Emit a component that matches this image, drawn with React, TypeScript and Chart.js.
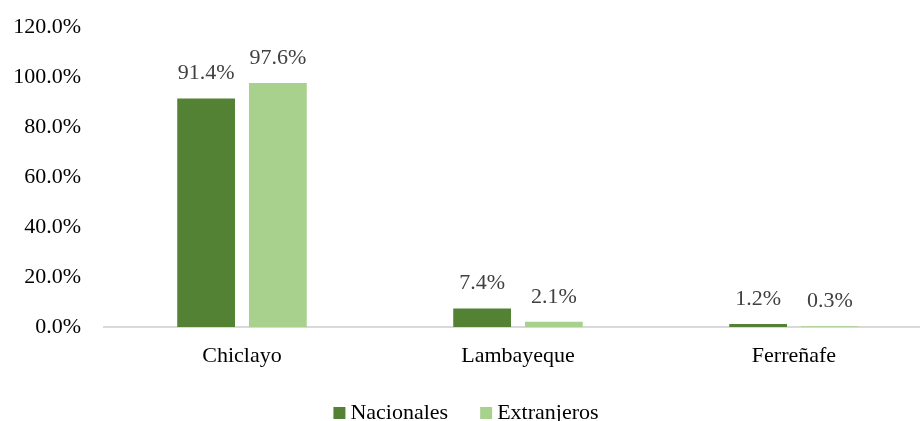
import React, { useEffect, useRef } from "react";
import { Chart, registerables } from "chart.js";

Chart.register(...registerables);

const categories = ["Chiclayo", "Lambayeque", "Ferreñafe"];
const nacionales = [91.4, 7.4, 1.2];
const extranjeros = [97.6, 2.1, 0.3];
const seriesNames = ["Nacionales", "Extranjeros"];
const seriesColors = ["#548235", "#A9D18E"];
const yTicks = [0, 20, 40, 60, 80, 100, 120];

const FONT = '"Liberation Serif", "Times New Roman", serif';

const dataLabelPlugin = {
  id: "dataLabels",
  afterDatasetsDraw(chart: any) {
    const ctx = chart.ctx;
    ctx.save();
    ctx.font = `22px ${FONT}`;
    ctx.fillStyle = "#404040";
    ctx.textAlign = "center";
    ctx.textBaseline = "middle";
    chart.data.datasets.forEach((ds: any, i: number) => {
      const meta = chart.getDatasetMeta(i);
      meta.data.forEach((bar: any, j: number) => {
        const v = ds.data[j];
        ctx.fillText(v.toFixed(1) + "%", bar.x, bar.y - 25);
      });
    });
    ctx.restore();
  },
};

const legendPlugin = {
  id: "customLegend",
  afterDraw(chart: any) {
    const ctx = chart.ctx;
    ctx.save();
    ctx.font = `22px ${FONT}`;
    ctx.textBaseline = "alphabetic";
    ctx.textAlign = "left";
    const box = 12;
    const gapText = 5;
    const gapItem = 32;
    const widths = seriesNames.map((n) => ctx.measureText(n).width);
    const total =
      widths.reduce((a, b) => a + b, 0) + seriesNames.length * (box + gapText) + gapItem * (seriesNames.length - 1);
    let x = chart.width / 2 - total / 2;
    const baseline = chart.height - 2;
    seriesNames.forEach((n, i) => {
      ctx.fillStyle = seriesColors[i];
      ctx.fillRect(x, baseline - box, box, box);
      x += box + gapText;
      ctx.fillStyle = "#000000";
      ctx.fillText(n, x, baseline);
      x += widths[i] + gapItem;
    });
    ctx.restore();
  },
};

export default function App() {
  const ref = useRef<HTMLCanvasElement>(null);
  useEffect(() => {
    if (!ref.current) return;
    const chart = new Chart(ref.current, {
      type: "bar",
      data: {
        labels: categories,
        datasets: [
          {
            label: seriesNames[0],
            data: nacionales,
            backgroundColor: seriesColors[0],
            categoryPercentage: 0.52,
            barPercentage: 0.805,
          },
          {
            label: seriesNames[1],
            data: extranjeros,
            backgroundColor: seriesColors[1],
            categoryPercentage: 0.52,
            barPercentage: 0.805,
          },
        ],
      },
      options: {
        responsive: false,
        animation: false,
        layout: { padding: { top: 27, bottom: 52, left: 0, right: 0 } },
        plugins: {
          legend: { display: false },
          tooltip: { enabled: false },
        },
        scales: {
          x: {
            grid: { display: false, drawTicks: false },
            border: { display: true, color: "#D9D9D9", width: 2 },
            ticks: {
              color: "#000000",
              font: { family: FONT, size: 22 },
              padding: 16,
            },
            afterFit(scale: any) {
              scale.height = 42;
              scale.paddingLeft = 0;
              scale.paddingRight = 0;
            },
          },
          y: {
            min: 0,
            max: 120,
            grid: { display: false, drawTicks: false },
            border: { display: false },
            afterBuildTicks(scale: any) {
              scale.ticks = yTicks.map((v) => ({ value: v }));
            },
            ticks: {
              color: "#000000",
              font: { family: FONT, size: 22 },
              padding: 23,
              callback: (v: any) => Number(v).toFixed(1) + "%",
            },
            afterFit(scale: any) {
              scale.width = 104;
              scale.paddingTop = 0;
              scale.paddingBottom = 0;
            },
          },
        },
      },
      plugins: [dataLabelPlugin, legendPlugin],
    });
    return () => chart.destroy();
  }, []);
  return (
    <div style={{ position: "fixed", left: 0, top: 0, width: 932, height: 421, overflow: "hidden", background: "#fff" }}>
      <canvas ref={ref} width={932} height={421} />
    </div>
  );
}
